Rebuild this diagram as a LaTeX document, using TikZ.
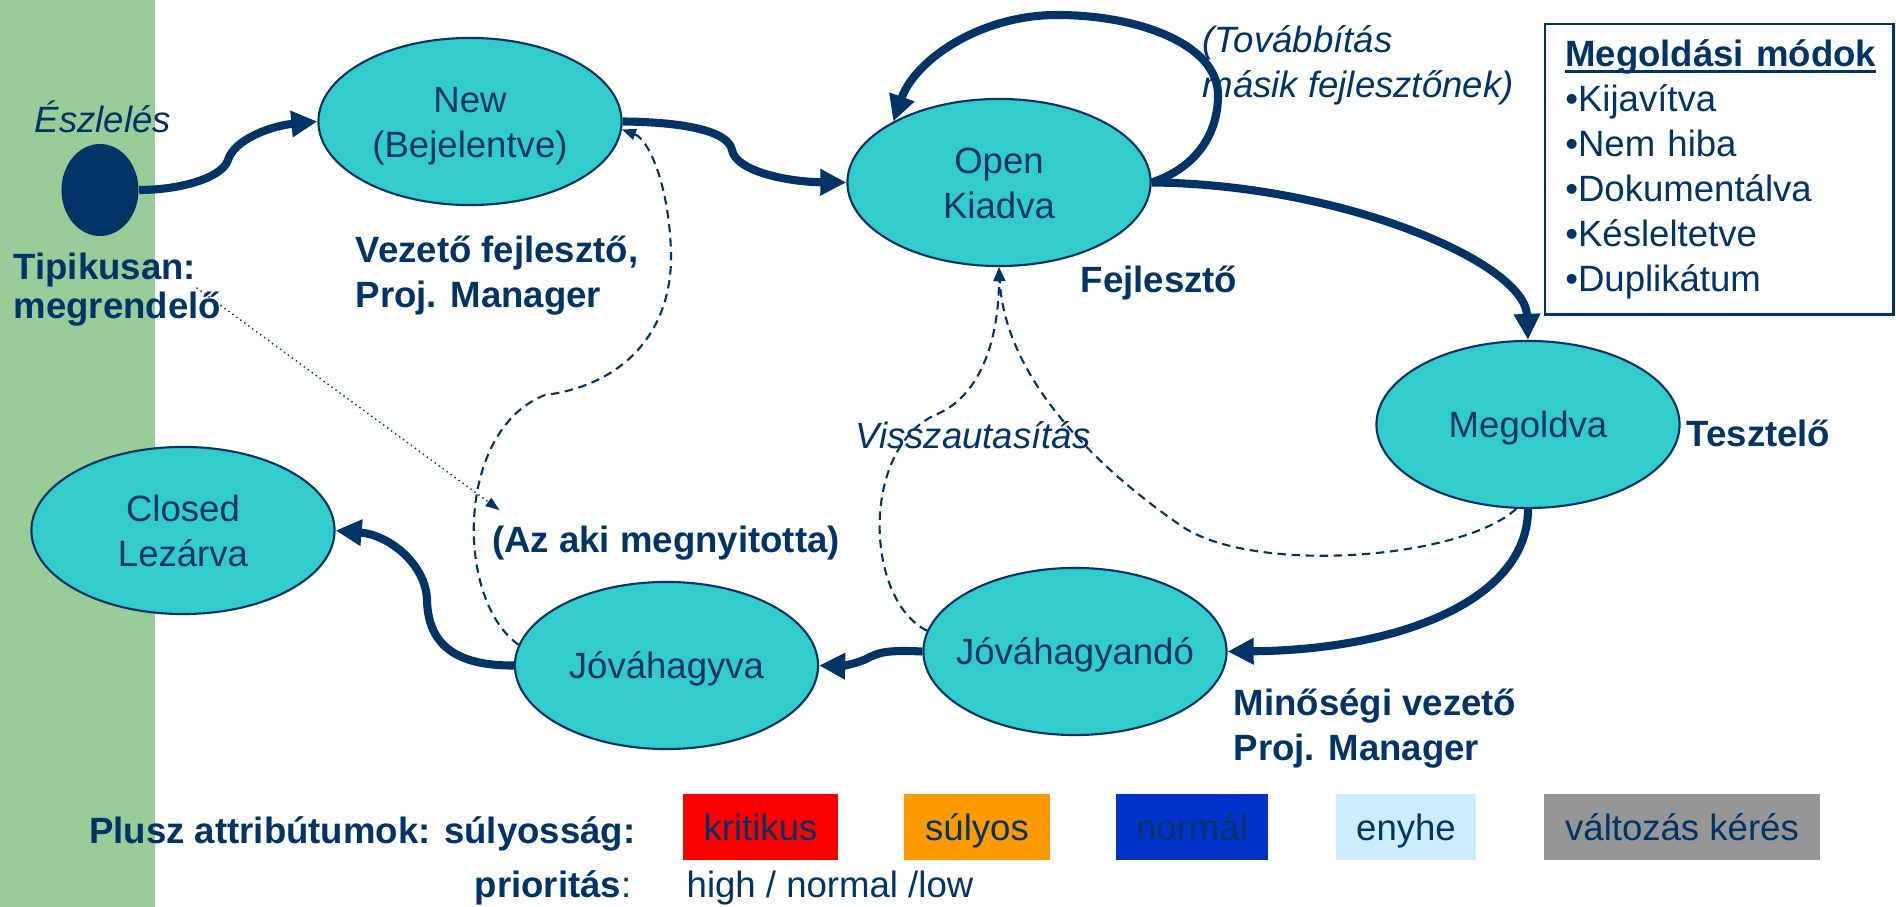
\documentclass[tikz,border=0pt]{standalone}
\usepackage{fontspec}
\setmainfont{Liberation Sans}
\usetikzlibrary{shapes.geometric, arrows.meta}
\definecolor{navy}{HTML}{003366}
\definecolor{stateteal}{HTML}{33CCCC}
\definecolor{stripgreen}{HTML}{99CC99}
\newlength{\titlewd}
\newcommand{\ultitle}[1]{\settowidth{\titlewd}{#1}\mbox{\rlap{\rule[-1.9pt]{\titlewd}{0.9pt}}#1}}
\tikzset{
    every node/.style={text=navy, font=\fontsize{10.4}{12.8}\selectfont},
    state/.style={ellipse, draw=navy, line width=0.6pt, fill=stateteal, minimum width=3.03cm, minimum height=1.67cm, inner xsep=-5mm, inner ysep=0pt, align=center, text height=7.6pt, text depth=0pt},
    twoline/.style={text height=20.4pt},
    flow/.style={draw=navy, line width=2.3pt, -{Triangle[length=0.26cm, width=0.25cm]}},
    back/.style={draw=navy, line width=0.6pt, dash pattern=on 2.4pt off 1.6pt, -{Triangle[length=0.14cm, width=0.11cm]}},
    role/.style={font=\fontsize{10.4}{12.8}\selectfont\bfseries, inner sep=0pt, align=left},
    note/.style={font=\fontsize{10.4}{12.8}\selectfont\itshape, inner sep=0pt, align=left},
    sev/.style={minimum height=0.66cm, inner sep=0pt, text height=7.4pt, text depth=0pt}
}
\begin{document}
        \begin{tikzpicture}[x=0.01cm, y=-0.01cm]
            \useasboundingbox (0,0) rectangle (1896,907);
            \fill[stripgreen] (0,0) rectangle (155,907);
            % States
            \node[ellipse, fill=navy, minimum width=0.77cm, minimum height=0.92cm] (start) at (100,190) {};
            \node[state, twoline] (new) at (470,121.5) {New\\(Bejelentve)};
            \node[state, twoline] (open) at (999,182.5) {Open\\Kiadva};
            \node[state] (megoldva) at (1528,424.5) {Megoldva};
            \node[state] (jovahagyando) at (1075,651.5) {Jóváhagyandó};
            \node[state] (jovahagyva) at (666.5,665.5) {Jóváhagyva};
            \node[state, twoline] (closed) at (183,530.5) {Closed\\Lezárva};
            % Labels
            \node[note] (eszleles) at (103,117) {Észlelés};
            \node[role, anchor=west] (tipikusan) at (13,270) {Tipikusan:};
            \node[role, anchor=west] (megrendelo) at (13,309) {megrendelő};
            \node[role, anchor=west] (vezeto) at (355,275.5) {Vezető fejlesztő,\\Proj. Manager};
            \node[role] (fejleszto) at (1159,283) {Fejlesztő};
            \node[note, anchor=west] (tovabbitas) at (1202,65) {(Továbbítás\\másik fejlesztőnek)};
            \node[role, anchor=west] (tesztelo) at (1686,433) {Tesztelő};
            \node[note] (vissza) at (973,435) {Visszautasítás};
            \node[role] (azaki) at (666,543) {(Az aki megnyitotta)};
            \node[role, anchor=west] (minosegi) at (1233,728) {Minőségi vezető\\Proj. Manager};
            \node[draw=navy, line width=0.7pt, anchor=north west, minimum width=3.48cm, minimum height=2.90cm, text width=3.08cm, inner xsep=0.2cm, align=left] (modok) at (1544,23) {\ultitle{\textbf{Megoldási módok}}\\•Kijavítva\\•Nem hiba\\•Dokumentálva\\•Késleltetve\\•Duplikátum};
            % Severity and priority
            \node[role, anchor=east] (plusz) at (636,834) {Plusz attribútumok: súlyosság:};
            \node[inner sep=0pt, anchor=east] (prioritas) at (632,888) {\textbf{prioritás}:};
            \node[inner sep=0pt, anchor=west] (skala) at (686,888) {high / normal /low};
            \node[sev, fill=red, minimum width=1.55cm] (kritikus) at (760.5,827) {kritikus};
            \node[sev, fill={rgb,255:red,255;green,153;blue,0}, minimum width=1.46cm] (sulyos) at (977,827) {súlyos};
            \node[sev, fill={rgb,255:red,0;green,51;blue,204}, minimum width=1.52cm] (normal) at (1192,827) {normál};
            \node[sev, fill={rgb,255:red,204;green,236;blue,255}, minimum width=1.40cm] (enyhe) at (1406,827) {enyhe};
            \node[sev, fill={rgb,255:red,150;green,150;blue,150}, minimum width=2.76cm] (valtozas) at (1682,827) {változás kérés};
            % Transitions
            \draw[flow] (start.east) .. controls (180,190) and (222,178) .. (228,160) .. controls (234,140) and (270,126) .. (new.west);
            \draw[flow] (new.east) .. controls (680,122) and (728,130) .. (732,150) .. controls (736,172) and (790,182) .. (open.west);
            \draw[flow] (open.east) .. controls (1190,170) and (1218,140) .. (1218,95) .. controls (1218,45) and (1140,15) .. (1057,15) .. controls (980,15) and (915,60) .. (open.150);
            \draw[flow] (open.east) .. controls (1340,184) and (1525,262) .. (megoldva.north);
            \draw[flow] (megoldva.south) .. controls (1528,600) and (1400,650) .. (jovahagyando.east);
            \draw[flow] (jovahagyando.west) .. controls (890,650) and (880,652) .. (870,657) .. controls (858,664) and (840,666) .. (jovahagyva.east);
            \draw[flow] (jovahagyva.west) .. controls (450,666) and (428,640) .. (427,600) .. controls (426,565) and (390,535) .. (closed.east);
            % Rejections
            \draw[back] (jovahagyva.172) .. controls (455,600) and (455,430) .. (545,395) .. controls (625,385) and (672,330) .. (671,255) .. controls (670,190) and (650,140) .. (new.-3);
            \draw[back] (jovahagyando.172) .. controls (865,600) and (860,450) .. (935,415) .. controls (985,395) and (999,330) .. (open.south);
            \draw[back] (megoldva.262) .. controls (1460,560) and (1250,575) .. (1180,525) .. controls (1100,470) and (1005,380) .. (open.south);
            \draw[navy, line width=0.4pt, densely dotted, -{Triangle[length=0.14cm, width=0.1cm]}] (tipikusan.south east) -- ([shift={(8,-15)}]azaki.north west);
        \end{tikzpicture}
\end{document}
